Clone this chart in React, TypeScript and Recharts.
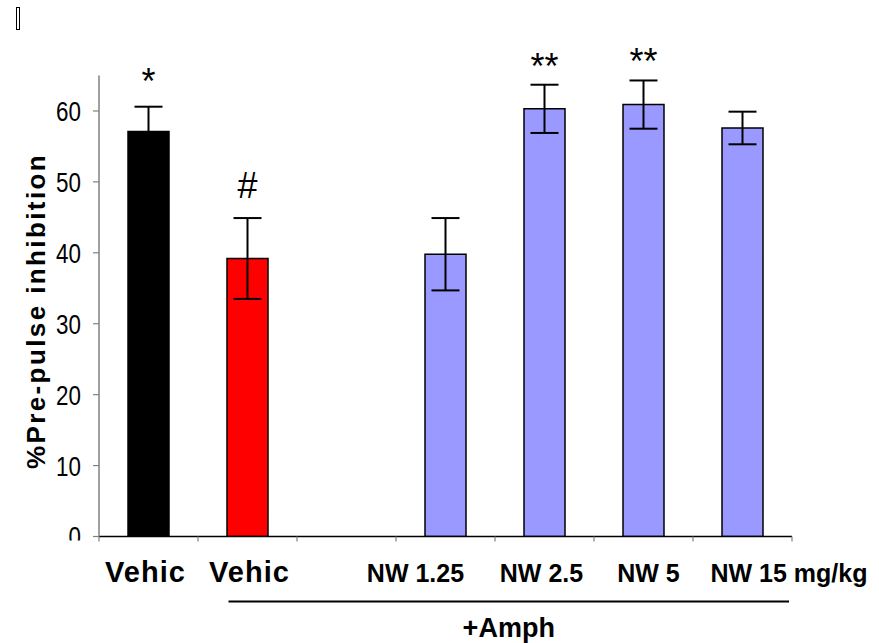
import React from "react";
import { BarChart, Bar, XAxis, YAxis, ErrorBar, Cell, LabelList } from "recharts";

// ---- data ----
const categories = ["Vehic", "Vehic", "", "NW 1.25", "NW 2.5", "NW 5", "NW 15"];
const means: (number | null)[] = [57.1, 39.2, null, 39.8, 60.3, 60.9, 57.6];
const sems: (number | null)[] = [3.5, 5.7, null, 5.1, 3.4, 3.4, 2.3];
const marks = ["*", "#", "", "", "**", "**", ""];
const yTicks = [0, 10, 20, 30, 40, 50, 60];
const yLabel = "%Pre-pulse inhibition";
const unitLabel = "mg/kg";
const groupLabel = "+Amph";

// ---- style / layout ----
const fills = ["#000000", "#FF0000", "#9999FF", "#9999FF", "#9999FF", "#9999FF", "#9999FF"];
const labelDx = [-3, 2, 0, -30, -3, 5, -32];
const labelSize = [29, 29, 25, 25, 25, 25, 25];
const markGap = [12.7, 20, 0, 0, 5.7, 6.4, 0];

const W = 879;
const H = 643;
const M = { top: 75.5, right: 87, bottom: 46.5, left: 0 };
const Y_AXIS_W = 99;
const X_AXIS_H = 60;
const PLOT_W = W - M.left - M.right - Y_AXIS_W;
const BAND = PLOT_W / categories.length;
const SANS = "'Liberation Sans', Arial, Helvetica, sans-serif";

const data = categories.map((label, i) => ({
  label,
  mean: means[i],
  sem: sems[i],
  idx: i,
}));

const XTick = (props: any) => {
  const { x, y, payload, index } = props;
  const i = payload?.index ?? index;
  const last = i === categories.length - 1;
  const label = last ? `${categories[i]} ${unitLabel}` : categories[i];
  return (
    <g>
      <line x1={x - BAND / 2} y1={y} x2={x - BAND / 2} y2={y + 5} stroke="#808080" strokeWidth={1.2} />
      {last && (
        <line x1={x + BAND / 2} y1={y} x2={x + BAND / 2} y2={y + 5} stroke="#808080" strokeWidth={1.2} />
      )}
      <text
        x={x + labelDx[i]}
        y={y + 45.5}
        textAnchor={last ? "start" : "middle"}
        fontFamily={SANS}
        fontWeight="bold"
        fontSize={labelSize[i]}
        letterSpacing={i < 2 ? 1 : 0}
        fill="#000"
      >
        {label}
      </text>
      {last && (
        <g>
          <line
            x1={x - 5 * BAND - 19}
            y1={y + 65}
            x2={x + BAND / 2 - 3}
            y2={y + 65}
            stroke="#000"
            strokeWidth={2}
          />
          <text
            x={(x - 5 * BAND - 19 + x + BAND / 2 - 3) / 2}
            y={y + 100}
            textAnchor="middle"
            fontFamily={SANS}
            fontWeight="bold"
            fontSize={27}
            fill="#000"
          >
            {groupLabel}
          </text>
        </g>
      )}
    </g>
  );
};

const YTick = (props: any) => {
  const { x, y, payload, index } = props;
  const id = `yclip-${index}`;
  return (
    <g>
      <clipPath id={id}>
        <rect x={0} y={0} width={Y_AXIS_W} height={H - M.bottom - X_AXIS_H + 4} />
      </clipPath>
      <g clipPath={`url(#${id})`}>
        <g transform={`translate(${x} ${y}) scale(0.8 1)`}>
          <text
            x={0}
            y={0}
            textAnchor="end"
            dominantBaseline="central"
            fontFamily={SANS}
            fontSize={28}
            fill="#000"
          >
            {payload.value}
          </text>
        </g>
      </g>
    </g>
  );
};

const MarkLabel = (props: any) => {
  const { x, y, width, height, value } = props;
  const i = Number(value);
  const mark = marks[i];
  const mean = means[i];
  if (!mark || mean == null) return null;
  const pxPerUnit = height / mean;
  const errTop = y - (sems[i] ?? 0) * pxPerUnit;
  return (
    <text
      x={x + width / 2}
      y={errTop - markGap[i]}
      textAnchor="middle"
      fontFamily={SANS}
      fontSize={36}
      fill="#000"
    >
      {mark}
    </text>
  );
};

const YLabel = (props: any) => {
  const vb = props.viewBox || {};
  const cx = (vb.x ?? 0) + 36;
  const cy = (vb.y ?? 0) + (vb.height ?? 0) / 2 + 5;
  return (
    <text
      x={cx}
      y={cy}
      transform={`rotate(-90 ${cx} ${cy})`}
      textAnchor="middle"
      dominantBaseline="central"
      fontFamily={SANS}
      fontWeight="bold"
      fontSize={26}
      letterSpacing={2.4}
      fill="#000"
    >
      {yLabel}
    </text>
  );
};

export default function App() {
  return (
    <div style={{ position: "absolute", left: 0, top: 0, width: W, height: H, background: "#fff" }}>
      <div
        style={{
          position: "absolute",
          left: 16,
          top: 7,
          width: 2,
          height: 21,
          border: "1px solid #000",
        }}
      />
      <BarChart width={W} height={H} data={data} margin={M} barCategoryGap={0}>
        <XAxis
          dataKey="label"
          interval={0}
          tickLine={false}
          tickSize={0}
          tickMargin={0}
          height={X_AXIS_H}
          axisLine={{ stroke: "#000", strokeWidth: 1.5 }}
          tick={<XTick />}
          allowDuplicatedCategory={true}
        />
        <YAxis
          width={Y_AXIS_W}
          domain={[0, 65]}
          ticks={yTicks}
          allowDataOverflow={true}
          axisLine={{ stroke: "#808080", strokeWidth: 1.5 }}
          tickLine={{ stroke: "#808080", strokeWidth: 1.2 }}
          tickSize={6}
          tickMargin={12}
          tick={<YTick />}
          label={<YLabel />}
        />
        <Bar dataKey="mean" barSize={41} stroke="#000" strokeWidth={1.5} isAnimationActive={false}>
          {data.map((_, i) => (
            <Cell key={i} fill={fills[i]} />
          ))}
          <ErrorBar dataKey="sem" width={14} strokeWidth={2} stroke="#000" direction="y" />
          <LabelList dataKey="idx" content={<MarkLabel />} />
        </Bar>
      </BarChart>
    </div>
  );
}
